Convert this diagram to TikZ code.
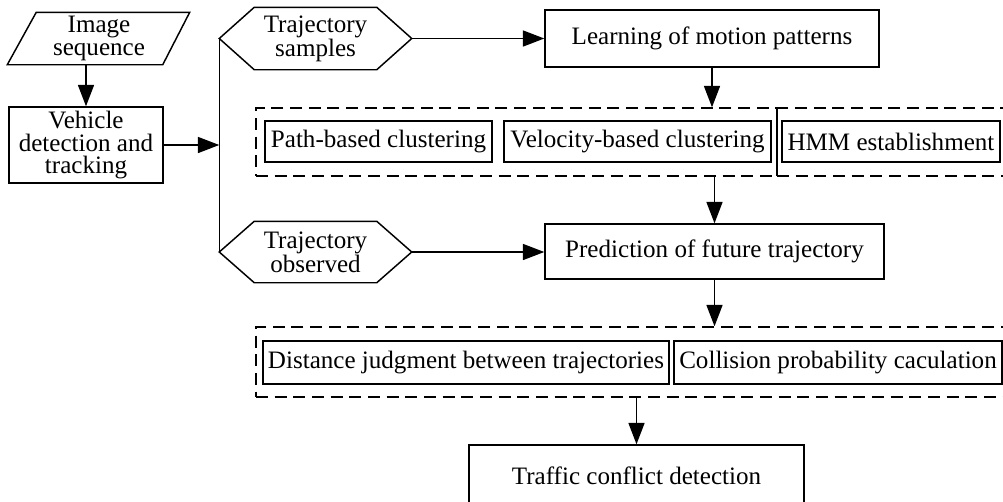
\documentclass[tikz,border=0pt]{standalone}
\usepackage{fontspec}
\setmainfont{Liberation Serif}
\usetikzlibrary{arrows.meta,calc}

\begin{document}
\begin{tikzpicture}[x=0.75pt,y=-0.75pt,
  line width=1.1pt,
  every node/.style={font=\fontsize{18.8}{17}\selectfont, align=center, inner sep=0pt},
  sz/.style 2 args={minimum width=#1*0.75pt, minimum height=#2*0.75pt},
  box/.style={draw, rectangle},
  sub/.style={draw, rectangle, line width=0.9pt},
  group/.style={draw, rectangle, dash pattern=on 9pt off 5pt},
  arr/.style={-{Triangle[length=16pt,width=12pt]}}]
\useasboundingbox (0,0) rectangle (1003,501);
\clip (0,0) rectangle (1003,501);

% input and tracking
\node[sz={154}{51}] (img) at (99,38.5) {Image\\sequence};
\draw ($(img.north west)+(15,0)$) -- ($(img.north east)+(13,0)$)
   -- ($(img.south east)+(-14,0)$) -- ($(img.south west)+(-14,0)$) -- cycle;
\node[box, sz={154}{76}] (veh) at (86,145) {Vehicle\\detection and\\tracking};

% trajectory data (hexagons)
\node[sz={191}{61}] (samples) at (315.5,38.5) {Trajectory\\samples};
\draw (samples.west) -- ($(samples.north west)+(35,0)$) -- ($(samples.north east)+(-35,0)$)
   -- (samples.east) -- ($(samples.south east)+(-35,0)$) -- ($(samples.south west)+(35,0)$) -- cycle;
\node[sz={191}{60}] (observed) at (315.5,252) {Trajectory\\observed};
\draw (observed.west) -- ($(observed.north west)+(35,0)$) -- ($(observed.north east)+(-35,0)$)
   -- (observed.east) -- ($(observed.south east)+(-35,0)$) -- ($(observed.south west)+(35,0)$) -- cycle;

% main steps
\node[box, sz={334}{57}] (learn) at (712,38.5) {Learning of motion patterns};
\node[box, sz={339}{55}] (pred) at (714.5,251.5) {Prediction of future trajectory};
\node[box, sz={335}{61}] (traffic) at (636.5,475.5) {Traffic conflict detection};

% grouped sub-steps
\node[group, sz={521}{68}] (g1) at (516.5,142) {};
\node[group, sz={233}{68}] (g1b) at (893.5,142) {};
\node[group, sz={754}{70}] (g2) at (633,362) {};
\node[sub, sz={227}{41}] (path) at (378.5,141.5) {Path-based clustering};
\node[sub, sz={267}{41}] (vel) at (637.5,141.5) {Velocity-based clustering};
\node[sub, sz={218}{41}] (hmm) at (891,141.5) {HMM establishment};
\node[sub, sz={406}{43}] (dist) at (466,362.5) {Distance judgment between trajectories};
\node[sub, sz={328}{43}] (coll) at (838,362.5) {Collision probability caculation};

% connectors
\draw[arr] (veh.north |- img.south) -- (veh.north);
\draw (samples.west) -- (observed.west);
\draw[arr] (veh.east) -- (veh.east -| samples.west);
\draw[arr] (samples.east) -- (samples.east -| learn.west);
\draw[arr] (learn.south) -- (learn.south |- g1.north);
\draw[arr] (pred.north |- g1.south) -- (pred.north);
\draw[arr] (observed.east) -- (observed.east -| pred.west);
\draw[arr] (pred.south) -- (pred.south |- g2.north);
\draw[arr] (traffic.north |- g2.south) -- (traffic.north);
\end{tikzpicture}
\end{document}
